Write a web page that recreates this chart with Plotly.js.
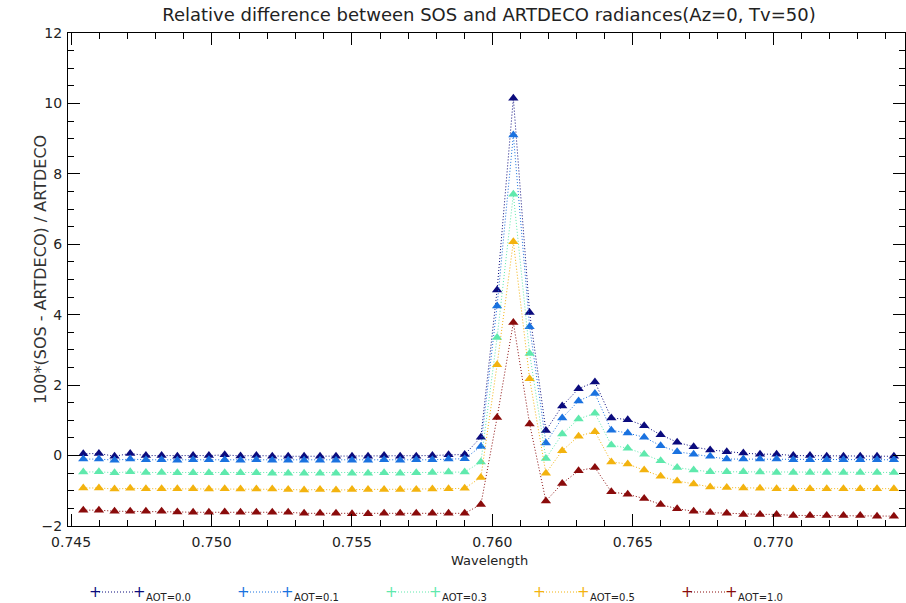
<!DOCTYPE html>
<html>
<head>
<meta charset="utf-8">
<script src="https://cdn.plot.ly/plotly-3.0.1.min.js"></script>
<style>
  html, body { margin: 0; padding: 0; background: #fff; }
  #chart { width: 906px; height: 603px; }
</style>
</head>
<body>
<div id="chart"></div>
<script>
// ---- data ----
const wavelength = [
  0.745434, 0.745990, 0.746547, 0.747105, 0.747664, 0.748223, 0.748783, 0.749344, 0.749906, 0.750469,
  0.751032, 0.751597, 0.752162, 0.752729, 0.753296, 0.753863, 0.754432, 0.755002, 0.755572, 0.756144,
  0.756716, 0.757289, 0.757863, 0.758438, 0.759013, 0.759590, 0.760167, 0.760746, 0.761325, 0.761905,
  0.762486, 0.763068, 0.763650, 0.764234, 0.764818, 0.765404, 0.765990, 0.766577, 0.767165, 0.767754,
  0.768344, 0.768935, 0.769527, 0.770119, 0.770713, 0.771307, 0.771903, 0.772499, 0.773096, 0.773694,
  0.774294
];

const aot00 = [
  0.05, 0.06, -0.02, 0.06, 0.0, 0.0, -0.02, 0.0, 0.0, 0.02,
  -0.01, 0.0, -0.02, -0.02, -0.02, -0.02, -0.02, -0.02, -0.02, 0.0,
  -0.02, -0.02, 0.0, 0.02, 0.03,
  0.52, 4.7, 10.15, 4.06, 0.71, 1.41, 1.9, 2.09, 1.07, 1.02,
  0.85, 0.59, 0.38, 0.25, 0.16, 0.11, 0.07, 0.04, 0.04, 0.0,
  0.0, -0.02, -0.02, -0.02, -0.02, -0.02
];
const aot01 = [
  -0.1, -0.1, -0.13, -0.1, -0.12, -0.12, -0.13, -0.12, -0.12, -0.12,
  -0.13, -0.12, -0.13, -0.13, -0.13, -0.13, -0.13, -0.13, -0.13, -0.12,
  -0.13, -0.12, -0.12, -0.1, -0.09,
  0.26, 4.25, 9.1, 3.66, 0.36, 1.07, 1.55, 1.76, 0.72, 0.64,
  0.52, 0.28, 0.11, 0.04, -0.02, -0.1, -0.1, -0.1, -0.1, -0.12,
  -0.12, -0.12, -0.12, -0.12, -0.12, -0.12
];
const aot03 = [
  -0.47, -0.46, -0.49, -0.46, -0.48, -0.48, -0.49, -0.49, -0.49, -0.49,
  -0.49, -0.49, -0.5, -0.5, -0.5, -0.5, -0.5, -0.5, -0.5, -0.49,
  -0.5, -0.49, -0.48, -0.47, -0.47,
  -0.18, 3.35, 7.42, 2.9, -0.08, 0.61, 1.04, 1.2, 0.3, 0.21,
  0.04, -0.15, -0.34, -0.41, -0.46, -0.46, -0.46, -0.47, -0.48, -0.48,
  -0.48, -0.48, -0.48, -0.48, -0.48, -0.48
];
const aot05 = [
  -0.92, -0.92, -0.95, -0.93, -0.94, -0.94, -0.94, -0.94, -0.95, -0.94,
  -0.95, -0.95, -0.95, -0.96, -0.98, -0.96, -0.98, -0.96, -0.96, -0.96,
  -0.96, -0.96, -0.95, -0.94, -0.93,
  -0.62, 2.58, 6.07, 2.18, -0.5, 0.14, 0.55, 0.68, -0.18, -0.24,
  -0.41, -0.59, -0.72, -0.81, -0.89, -0.91, -0.92, -0.93, -0.94, -0.94,
  -0.94, -0.94, -0.94, -0.94, -0.94, -0.94
];
const aot10 = [
  -1.55, -1.55, -1.58, -1.58, -1.58, -1.58, -1.6, -1.61, -1.61, -1.6,
  -1.61, -1.61, -1.61, -1.61, -1.64, -1.64, -1.64, -1.65, -1.65, -1.64,
  -1.64, -1.64, -1.64, -1.64, -1.64,
  -1.39, 1.08, 3.78, 0.9, -1.29, -0.79, -0.43, -0.34, -1.03, -1.1,
  -1.22, -1.39, -1.51, -1.58, -1.62, -1.64, -1.67, -1.67, -1.67, -1.7,
  -1.7, -1.7, -1.7, -1.7, -1.72, -1.72
];

const seriesNames = ['AOT=0.0', 'AOT=0.1', 'AOT=0.3', 'AOT=0.5', 'AOT=1.0'];
const seriesValues = [aot00, aot01, aot03, aot05, aot10];
const seriesColors = ['#0b0b7d', '#1a72e0', '#5fe9ad', '#f3b30f', '#8a0b0b'];

const titleText = 'Relative difference between SOS and ARTDECO radiances(Az=0, Tv=50)';
const xTitle = 'Wavelength';
const yTitle = '100*(SOS - ARTDECO) / ARTDECO';

// ---- layout geometry ----
const W = 906, H = 603;
const mL = 68, mR = 1, mT = 33, mB = 77;
const plotW = W - mL - mR, plotH = H - mT - mB;
const px2x = p => (p - mL) / plotW;
const py2y = p => (H - mB - p) / plotH;

const FONT = 'DejaVu Sans, Liberation Sans, sans-serif';

const traces = seriesValues.map((vals, i) => ({
  type: 'scatter',
  mode: 'lines+markers',
  x: wavelength,
  y: vals,
  name: seriesNames[i],
  line: { color: seriesColors[i], width: 1, dash: '1px,2px' },
  marker: { symbol: 'triangle-up', size: 9, color: seriesColors[i], line: { width: 0 } },
  showlegend: false,
  hoverinfo: 'x+y+name'
}));

const shapes = [];
const annotations = [];

// axis titles placed as annotations
annotations.push({
  xref: 'paper', yref: 'paper', x: px2x(489), y: py2y(560),
  xanchor: 'center', yanchor: 'middle', showarrow: false,
  text: xTitle, font: { family: FONT, size: 13, color: '#222' }
});
annotations.push({
  xref: 'paper', yref: 'paper', x: px2x(40), y: py2y(270),
  xanchor: 'center', yanchor: 'middle', showarrow: false, textangle: -90,
  text: yTitle, font: { family: FONT, size: 16, color: '#333' }
});

// custom legend: "+·····+ AOT=x"
seriesNames.forEach((name, k) => {
  const p1 = 95 + 148 * k, p2 = 139 + 148 * k, pt = 144 + 148 * k;
  const yPlus = 592, yText = 597;
  shapes.push({
    type: 'line', xref: 'paper', yref: 'paper',
    x0: px2x(p1 + 4), x1: px2x(p2 - 4), y0: py2y(yPlus), y1: py2y(yPlus),
    line: { color: seriesColors[k], width: 1, dash: '1px,2px' }
  });
  [p1, p2].forEach(p => annotations.push({
    xref: 'paper', yref: 'paper', x: px2x(p), y: py2y(yPlus),
    xanchor: 'center', yanchor: 'middle', showarrow: false,
    text: '+', font: { family: FONT, size: 15, color: seriesColors[k] }
  }));
  annotations.push({
    xref: 'paper', yref: 'paper', x: px2x(pt), y: py2y(yText),
    xanchor: 'left', yanchor: 'middle', showarrow: false,
    text: name, font: { family: FONT, size: 10, color: '#222' }
  });
});

const axisCommon = {
  showgrid: false, zeroline: false,
  showline: true, linecolor: '#000', linewidth: 1,
  mirror: 'ticks', ticks: 'inside', ticklen: 12, tickwidth: 1, tickcolor: '#000',
  tickfont: { family: FONT, size: 14, color: '#222' },
  automargin: false
};

const layout = {
  width: W, height: H,
  margin: { l: mL, r: mR, t: mT, b: mB, pad: 0 },
  paper_bgcolor: '#fff', plot_bgcolor: '#fff',
  font: { family: FONT, color: '#222' },
  title: {
    text: titleText,
    font: { family: FONT, size: 18, color: '#222' },
    x: px2x(489), xref: 'paper', xanchor: 'center',
    y: 1 - 15 / H, yref: 'container', yanchor: 'middle'
  },
  xaxis: Object.assign({}, axisCommon, {
    range: [0.74489, 0.77469],
    tick0: 0.745, dtick: 0.005, tickformat: '.3f',
    ticklabelstandoff: 3,
    minor: { dtick: 0.001, ticks: 'inside', ticklen: 6, tickcolor: '#000', tickwidth: 1 }
  }),
  yaxis: Object.assign({}, axisCommon, {
    range: [-2, 12],
    tick0: 0, dtick: 2,
    ticklabelstandoff: 2,
    minor: { dtick: 0.5, ticks: 'inside', ticklen: 6, tickcolor: '#000', tickwidth: 1 }
  }),
  shapes: shapes,
  annotations: annotations,
  showlegend: false
};

Plotly.newPlot('chart', traces, layout, { displayModeBar: false, staticPlot: true });
</script>
</body>
</html>
